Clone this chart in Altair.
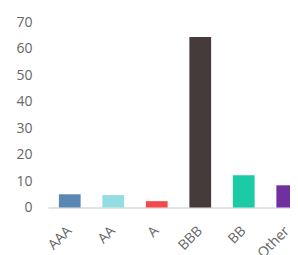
import altair as alt
import pandas as pd

categories = ["AAA", "AA", "A", "BBB", "BB", "Other"]
values = [5.0, 4.7, 2.4, 64.5, 12.2, 8.4]
colors = ["#5B87B5", "#93DDE3", "#F24A4A", "#453B3A", "#1ACBA6", "#7030A0"]

df = pd.DataFrame({"rating": categories, "value": values})

chart = alt.Chart(df).mark_bar().encode(
    x=alt.X("rating:N", sort=categories, title=None,
            scale=alt.Scale(paddingInner=0.5, paddingOuter=0.25, range=[0, 261]),
            axis=alt.Axis(labelAngle=-45, labelAlign="right", labelBaseline="middle",
                          labelPadding=21, ticks=False, domainColor="#e3e3e3",
                          domainWidth=2, labelColor="#666666", labelFontSize=14,
                          labelFont="Open Sans")),
    y=alt.Y("value:Q", title=None,
            scale=alt.Scale(domain=[0, 70]),
            axis=alt.Axis(values=[0, 10, 20, 30, 40, 50, 60, 70], ticks=False,
                          domain=False, grid=False, labelPadding=16,
                          labelColor="#666666", labelFontSize=14,
                          labelFont="Open Sans")),
    color=alt.Color("rating:N", scale=alt.Scale(domain=categories, range=colors),
                    legend=None),
).properties(
    width=242, height=185,
    autosize=alt.AutoSizeParams(type="none"),
    padding={"left": 40, "top": 14.5, "right": 0, "bottom": 47.5},
).configure_view(stroke=None).configure_axis(grid=False)

chart.save("out.html", embed_options={"renderer": "svg", "actions": False})
